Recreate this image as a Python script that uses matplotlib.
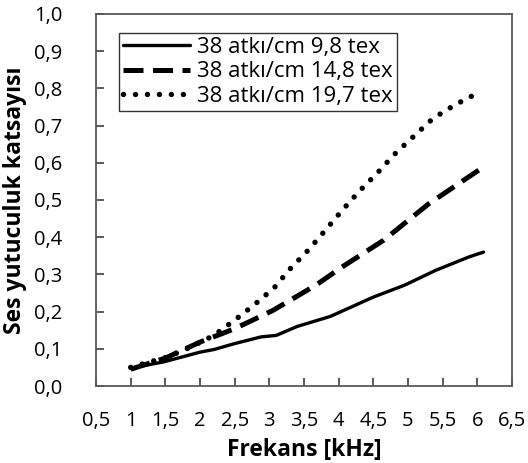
import matplotlib
matplotlib.use("Agg")
import matplotlib.pyplot as plt
from matplotlib.ticker import FuncFormatter

# veriler
x_98 = [1.0, 1.48, 2.0, 2.2, 2.5, 2.88, 3.1, 3.4, 3.88, 4.5, 4.95, 5.4, 5.88, 6.09]
y_98 = [0.048, 0.065, 0.091, 0.098, 0.114, 0.132, 0.136, 0.160, 0.187, 0.239, 0.271, 0.311, 0.347, 0.360]

x_148 = [1.0, 1.5, 2.0, 2.5, 3.05, 3.67, 4.05, 4.65, 5.3, 5.7, 6.09]
y_148 = [0.045, 0.075, 0.118, 0.154, 0.203, 0.271, 0.320, 0.392, 0.490, 0.540, 0.589]

x_197 = [1.0, 1.53, 1.87, 2.2, 2.5, 2.8, 3.07, 3.3, 3.57, 3.8, 4.05, 4.3, 4.57, 4.8, 5.07, 5.36, 5.67, 5.98]
y_197 = [0.050, 0.078, 0.105, 0.136, 0.177, 0.221, 0.264, 0.315, 0.367, 0.417, 0.472, 0.524, 0.575, 0.622, 0.669, 0.719, 0.755, 0.785]

labels = ["38 atkı/cm 9,8 tex", "38 atkı/cm 14,8 tex", "38 atkı/cm 19,7 tex"]

plt.rcParams['font.family'] = ['Open Sans', 'DejaVu Sans']

fig = plt.figure(figsize=(5.28, 4.63), dpi=100)
ax = fig.add_axes([0.1818, 0.1663, 0.9697 - 0.1818, 0.9698 - 0.1663])

ax.plot(x_98, y_98, color='black', lw=2.4, solid_capstyle='round', label=labels[0])
ax.plot(x_148, y_148, color='black', lw=3.6, linestyle=(0, (4.0, 1.9)), label=labels[1])
ax.plot(x_197, y_197, color='black', lw=3.9, linestyle=(0, (0.01, 2.2)),
        dash_capstyle='round', label=labels[2])

ax.set_xlim(0.5, 6.5)
ax.set_ylim(0, 1.0)
ax.set_xticks([0.5 + 0.5 * i for i in range(13)])
ax.set_yticks([0.1 * i for i in range(11)])

comma = FuncFormatter(lambda v, p: ("%g" % round(v, 2)).replace('.', ','))
ax.xaxis.set_major_formatter(comma)
ax.yaxis.set_major_formatter(FuncFormatter(lambda v, p: ("%.1f" % v).replace('.', ',')))

ax.tick_params(direction='in', length=6, width=1.2, labelsize=14.5, colors='black')
ax.tick_params(axis='x', pad=18)
ax.tick_params(axis='y', pad=24)
for s in ax.spines.values():
    s.set_color('#595959')
    s.set_linewidth(1.3)
ax.tick_params(color='#404040')

ax.set_xlabel("Frekans [kHz]", fontsize=16.5, fontweight='bold', labelpad=5)
ax.set_ylabel("Ses yutuculuk katsayısı", fontsize=16.5, fontweight='bold', labelpad=5)

leg = ax.legend(loc='upper left', bbox_to_anchor=(0.055, 0.95), fontsize=16,
                frameon=True, fancybox=False, borderpad=0.2, labelspacing=0.15,
                handlelength=3.0, handletextpad=0.3, borderaxespad=0)
leg.get_frame().set_edgecolor('black')
leg.get_frame().set_linewidth(1.0)

fig.savefig("out.png", dpi=100)
